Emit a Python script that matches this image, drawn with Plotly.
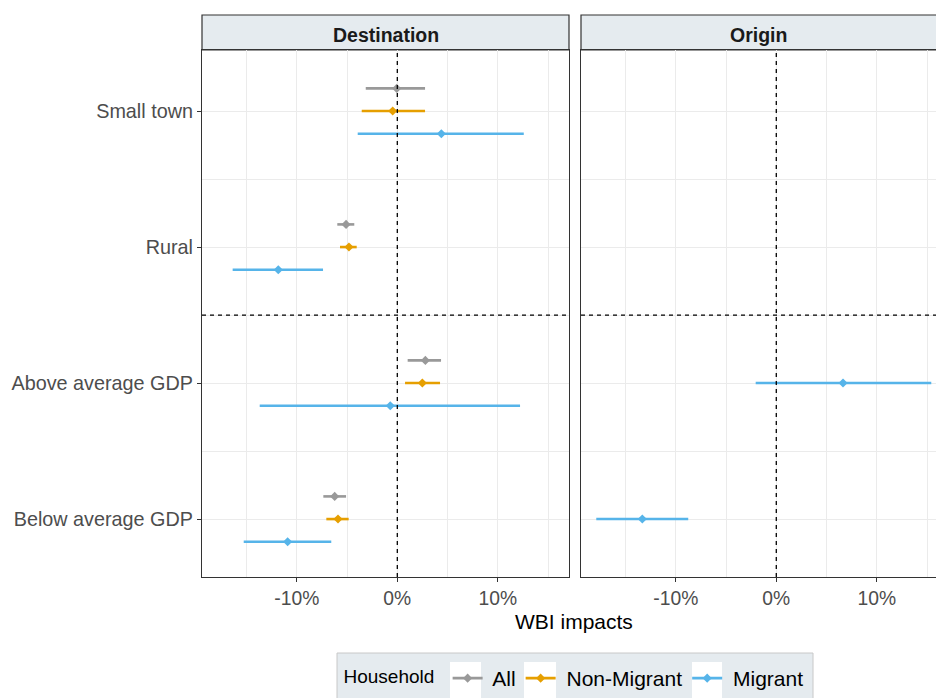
import plotly.graph_objects as go

# Categories, listed bottom to top
categories = ["Below average GDP", "Above average GDP", "Rural", "Small town"]
groups = ["All", "Non-Migrant", "Migrant"]
colors = {"All": "#999999", "Non-Migrant": "#E69F00", "Migrant": "#56B4E9"}

# Destination estimates with lower/upper bounds (share)
dest_all_est = [-0.0623, 0.0279, -0.0510, -0.0006]
dest_all_lo = [-0.0736, 0.0103, -0.0597, -0.0314]
dest_all_hi = [-0.0510, 0.0435, -0.0428, 0.0276]

dest_nm_est = [-0.0590, 0.0249, -0.0481, -0.0046]
dest_nm_lo = [-0.0706, 0.0077, -0.0570, -0.0354]
dest_nm_hi = [-0.0484, 0.0425, -0.0404, 0.0276]

dest_mig_est = [-0.1091, -0.0070, -0.1184, 0.0438]
dest_mig_lo = [-0.1528, -0.1369, -0.1638, -0.0394]
dest_mig_hi = [-0.0657, 0.1221, -0.0739, 0.1258]

# Origin estimates (migrant households only, GDP groups)
orig_cats = ["Below average GDP", "Above average GDP"]
orig_mig_est = [-0.1333, 0.0664]
orig_mig_lo = [-0.1791, -0.0205]
orig_mig_hi = [-0.0876, 0.1542]

x_ticks = [-0.1, 0.0, 0.1]
x_ticktext = ["-10%", "0%", "10%"]
x_minor = [-0.15, -0.05, 0.05, 0.15]

FONT = "Liberation Sans, Arial, sans-serif"
STRIP_BG = "#E5EBEF"
BORDER = "#333333"
GRID = "#EBEBEB"

cat_pos = {c: i for i, c in enumerate(categories)}
dodge = {"All": 1 / 6, "Non-Migrant": 0.0, "Migrant": -1 / 6}

fig = go.Figure()


def add_range(est, lo, hi, cats, group, offset, xa, ya):
    y = [cat_pos[c] + offset for c in cats]
    fig.add_trace(go.Scatter(
        x=est, y=y, mode="markers", xaxis=xa, yaxis=ya,
        marker=dict(symbol="diamond", size=7, color=colors[group]),
        error_x=dict(type="data", symmetric=False,
                     array=[h - e for h, e in zip(hi, est)],
                     arrayminus=[e - l for e, l in zip(est, lo)],
                     color=colors[group], thickness=2.6, width=0),
        showlegend=False, hoverinfo="skip", name=group))


add_range(dest_all_est, dest_all_lo, dest_all_hi, categories, "All", dodge["All"], "x", "y")
add_range(dest_nm_est, dest_nm_lo, dest_nm_hi, categories, "Non-Migrant", dodge["Non-Migrant"], "x", "y")
add_range(dest_mig_est, dest_mig_lo, dest_mig_hi, categories, "Migrant", dodge["Migrant"], "x", "y")
add_range(orig_mig_est, orig_mig_lo, orig_mig_hi, orig_cats, "Migrant", 0.0, "x2", "y2")

# legend entries (line + point keys)
for g in groups:
    fig.add_trace(go.Scatter(
        x=[None], y=[None], mode="lines+markers", name=" " + g,
        line=dict(color=colors[g], width=2.6),
        marker=dict(symbol="diamond", size=7, color=colors[g])))

W, H = 936, 698


def px_x(p):
    return p / W


def px_y(p):
    return (H - p) / H


dest_dom = [px_x(202), px_x(569)]
orig_dom = [px_x(581), 1.0]
y_dom = [px_y(577), px_y(50)]
strip_y = [px_y(50), px_y(15)]

xaxis_common = dict(
    tickvals=x_ticks, ticktext=x_ticktext, showgrid=True, gridcolor=GRID, gridwidth=1,
    minor=dict(tickvals=x_minor, showgrid=True, gridcolor=GRID, gridwidth=1, ticks=""),
    zeroline=False, ticks="outside", ticklen=4, tickcolor=BORDER, tickwidth=1,
    tickfont=dict(family=FONT, size=19.3, color="#4D4D4D"),
    showline=True, linecolor=BORDER, linewidth=1.2, mirror=True,
)
yrange = [-0.426, 3.449]

fig.update_layout(
    width=W, height=H, margin=dict(l=0, r=0, t=0, b=0, autoexpand=False),
    paper_bgcolor="white", plot_bgcolor="white",
    font=dict(family=FONT, color="black"),
    xaxis=dict(domain=dest_dom, range=[-0.1943, 0.1708], anchor="y", **xaxis_common),
    xaxis2=dict(domain=orig_dom, range=[-0.1943, 0.1589], anchor="y2", **xaxis_common),
    yaxis=dict(domain=y_dom, range=yrange, anchor="x",
               tickvals=list(range(len(categories))), ticktext=categories,
               showgrid=True, gridcolor=GRID, gridwidth=1,
               minor=dict(tickvals=[0.5, 1.5, 2.5], showgrid=True, gridcolor=GRID, gridwidth=1, ticks=""),
               zeroline=False, ticks="outside", ticklen=4, tickcolor=BORDER,
               tickfont=dict(family=FONT, size=19.8, color="#4D4D4D"),
               showline=True, linecolor=BORDER, linewidth=1.2, mirror=True),
    yaxis2=dict(domain=y_dom, range=yrange, anchor="x2",
                tickvals=list(range(len(categories))), showticklabels=False,
                showgrid=True, gridcolor=GRID, gridwidth=1,
                minor=dict(tickvals=[0.5, 1.5, 2.5], showgrid=True, gridcolor=GRID, gridwidth=1, ticks=""),
                zeroline=False, ticks="",
                showline=True, linecolor=BORDER, linewidth=1.2, mirror=False),
    legend=dict(orientation="h", x=px_x(575), xanchor="center", y=px_y(658), yanchor="top",
                bgcolor="rgba(0,0,0,0)", borderwidth=0,
                font=dict(family=FONT, size=21, color="black"),
                title=dict(text="Household ", font=dict(family=FONT, size=19, color="black"))),
    showlegend=True,
)

# legend panel background and white key boxes
fig.add_shape(type="rect", xref="paper", yref="paper",
              x0=px_x(337), x1=px_x(813), y0=px_y(705), y1=px_y(653),
              fillcolor=STRIP_BG, line=dict(color="#C8C8C8", width=1), layer="below")
for x0, x1 in [(450, 481), (524, 556), (692, 722)]:
    fig.add_shape(type="rect", xref="paper", yref="paper",
                  x0=px_x(x0), x1=px_x(x1), y0=px_y(705), y1=px_y(662),
                  fillcolor="white", line=dict(width=0), layer="below")

# facet strips
for dom, label in [(dest_dom, "Destination"), (orig_dom, "Origin")]:
    fig.add_shape(type="rect", xref="paper", yref="paper",
                  x0=dom[0], x1=dom[1] + (0.01 if dom[1] >= 1 else 0), y0=strip_y[0], y1=strip_y[1],
                  fillcolor=STRIP_BG, line=dict(color=BORDER, width=1.2), layer="below")
    fig.add_annotation(xref="paper", yref="paper", x=(dom[0] + min(dom[1], 947 / W)) / 2,
                       y=px_y(35), yanchor="middle", xanchor="center",
                       text="<b>%s</b>" % label,
                       showarrow=False, font=dict(family=FONT, size=19.5, color="#1A1A1A"))

# reference lines: zero effect and the split between area and GDP groups
for xa, ya in [("x", "y"), ("x2", "y2")]:
    fig.add_shape(type="line", xref=xa, yref=ya + " domain", x0=0, x1=0, y0=0, y1=1,
                  line=dict(color="black", width=1.3, dash="4px,4px"))
    fig.add_shape(type="line", xref=xa + " domain", yref=ya, x0=0, x1=1, y0=1.5, y1=1.5,
                  line=dict(color="black", width=1.3, dash="4px,4px"))

fig.add_annotation(xref="paper", yref="paper", x=px_x(574), y=px_y(621),
                   xanchor="center", yanchor="middle",
                   text="WBI impacts", showarrow=False,
                   font=dict(family=FONT, size=21, color="black"))

fig.write_html("out.html")
